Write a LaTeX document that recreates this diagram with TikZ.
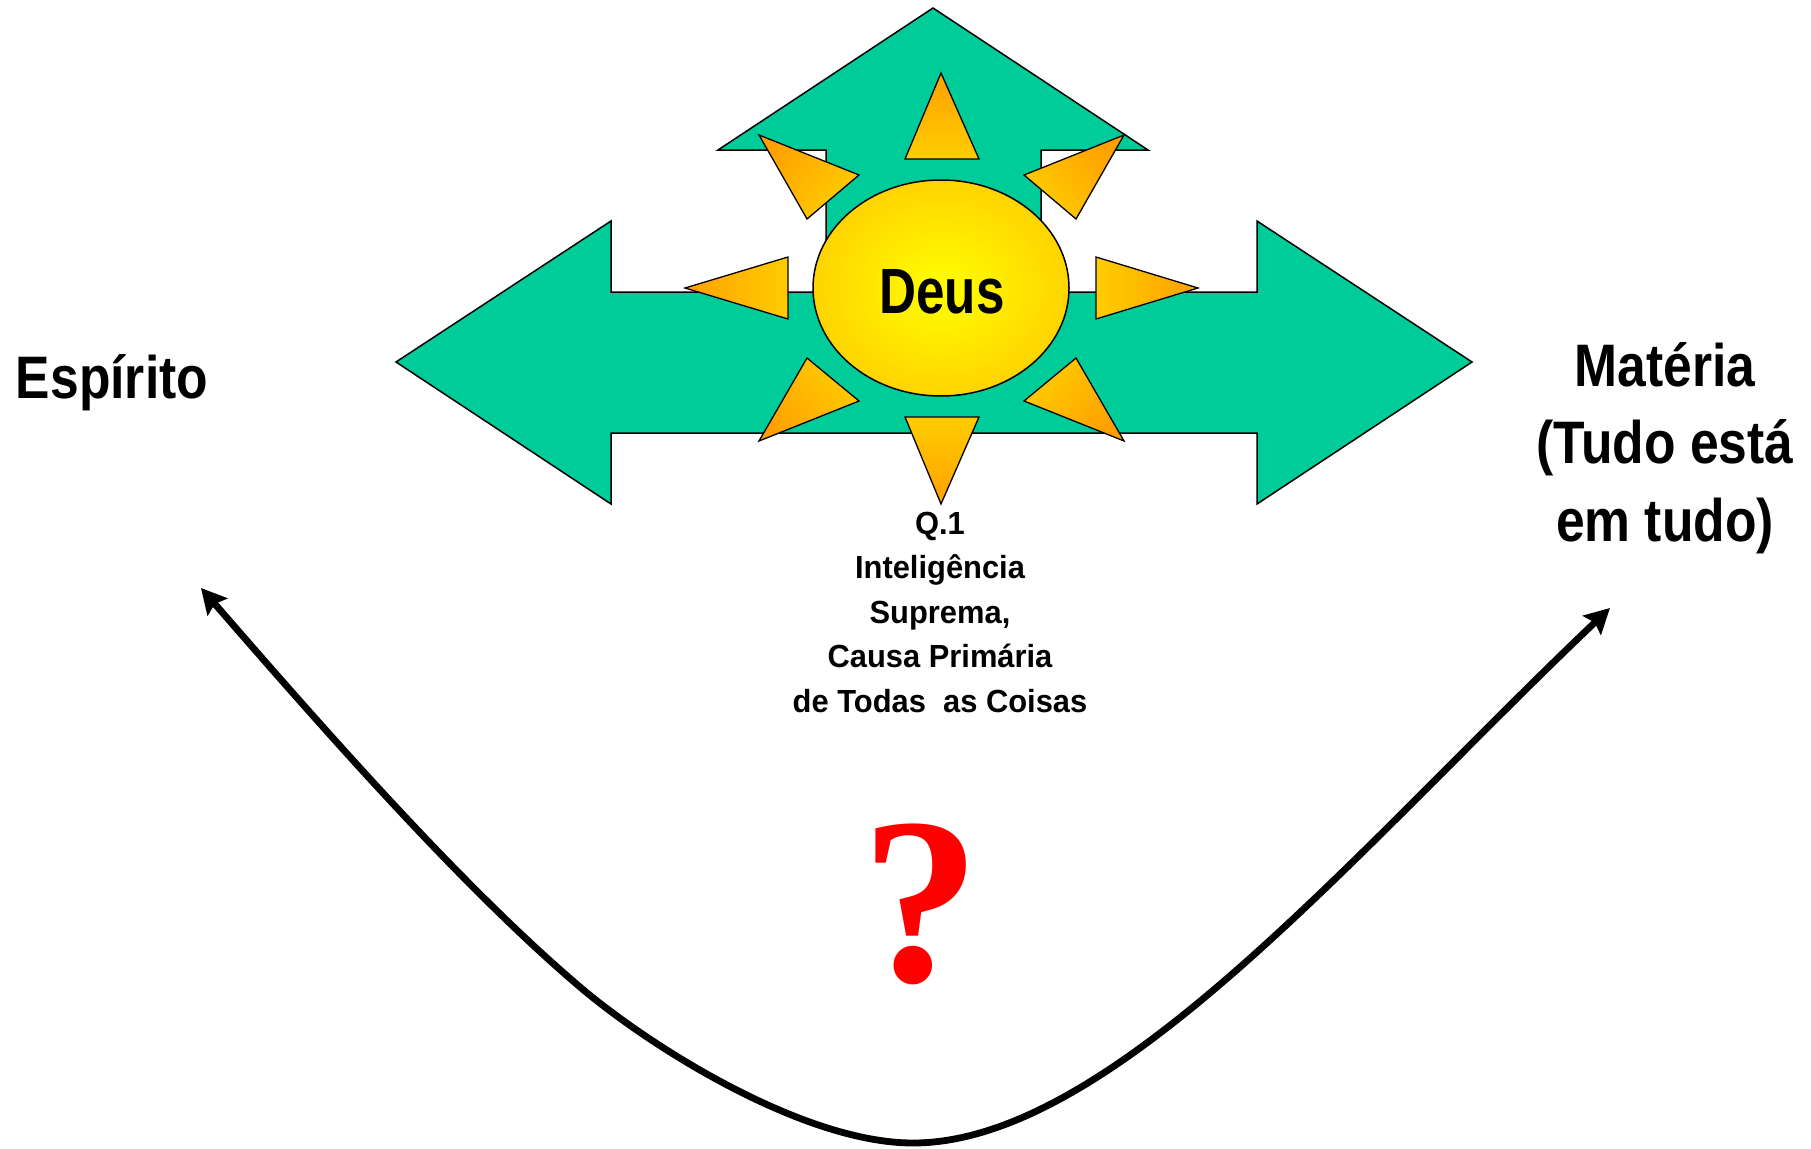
\documentclass[tikz,border=0pt]{standalone}
\usepackage{fontspec}
\setmainfont{Liberation Sans}
\newfontfamily\condfont{Liberation Sans}[FakeStretch=0.86]
\newfontfamily\deusfont{Liberation Sans}[FakeStretch=0.8]
\newfontfamily\smallfont{Liberation Sans}[FakeStretch=0.965]
\newfontfamily\qmfont{Liberation Serif}
\usetikzlibrary{shapes.geometric,arrows.meta}
\definecolor{arrowgreen}{RGB}{0,204,153}
\definecolor{raytip}{RGB}{255,160,0}
\definecolor{raybase}{RGB}{255,205,0}
\definecolor{sunedge}{RGB}{255,212,0}
\definecolor{qred}{RGB}{255,0,0}
\tikzset{
  bigarrow/.style={draw=black, line width=1.5pt, fill=arrowgreen, line join=miter},
  ray/.style={draw=black, line width=1.3pt, top color=raytip, bottom color=raybase, shading angle=#1, line join=miter},
  sun/.style={ellipse, draw=black, line width=1.5pt, inner color=yellow, outer color=sunedge, minimum width=256pt, minimum height=216pt, inner sep=0pt},
  bigtext/.style={inner sep=0pt, anchor=base, font=\condfont\bfseries\fontsize{60}{77.5}\selectfont},
  smalltext/.style={inner sep=0pt, anchor=base, font=\smallfont\bfseries\fontsize{32}{44.5}\selectfont},
  curve/.style={line width=6.8pt, {Stealth[length=25pt,width=26pt,inset=4pt]}-{Stealth[length=25pt,width=26pt,inset=4pt]}}
}
\begin{document}
\begin{tikzpicture}[x=1pt,y=-1pt]
\fill[white] (0,0) rectangle (1811,1148);
\useasboundingbox (0,0) rectangle (1811,1148);

% green cross-shaped arrow
\draw[bigarrow] (933,8) -- (1148,150) -- (1041,150) -- (1041,292) -- (1257,292) -- (1257,221)
  -- (1472,362) -- (1257,504) -- (1257,433) -- (611,433) -- (611,504) -- (396,362)
  -- (611,221) -- (611,292) -- (826,292) -- (826,150) -- (718,150) -- cycle;

% rays
\draw[ray=0]    (941,73) -- (979,159) -- (905,159) -- cycle;
\draw[ray=180]  (941,504) -- (979,417) -- (905,417) -- cycle;
\draw[ray=90]   (685,288) -- (788,257) -- (788,319) -- cycle;
\draw[ray=-90]  (1198,288) -- (1096,257) -- (1096,319) -- cycle;
\draw[ray=50]   (759,135) -- (859,175) -- (807,219) -- cycle;
\draw[ray=-50]  (1124,135) -- (1024,175) -- (1076,219) -- cycle;
\draw[ray=130]  (807,358) -- (859,401) -- (759,441) -- cycle;
\draw[ray=-130] (1076,358) -- (1024,401) -- (1124,441) -- cycle;

% sun
\node[sun] (deus) at (941,288) {};
\node[inner sep=0pt, anchor=base, font=\deusfont\bfseries\fontsize{64}{70}\selectfont] (deustxt) at (942,313) {Deus};

% texts
\node[bigtext] (esp) at (112,398) {Espírito};
\node[bigtext] (mat) at (1665,386) {\begin{tabular}[t]{@{}c@{}}Matéria\\(Tudo está\\em tudo)\end{tabular}};
\node[smalltext] (q1) at (940,534) {\begin{tabular}[t]{@{}c@{}}Q.1\\Inteligência\\Suprema,\\Causa Primária\\de Todas\ \ as Coisas\end{tabular}};
\node[inner sep=0pt, anchor=base, text=qred, font=\qmfont\bfseries\fontsize{238}{240}\selectfont] (qm) at (921,981) {?};

% curve
\coordinate (espTip) at (201,588);
\coordinate (bottom) at (913,1143);
\coordinate (matTip) at (1610,608);
\draw[curve] (espTip) .. controls (321,726) and (460,885) .. (580,987)
  .. controls (650,1046.5) and (803,1143) .. (bottom)
  .. controls (1113,1143) and (1360,845.5) .. (matTip);
\end{tikzpicture}
\end{document}
